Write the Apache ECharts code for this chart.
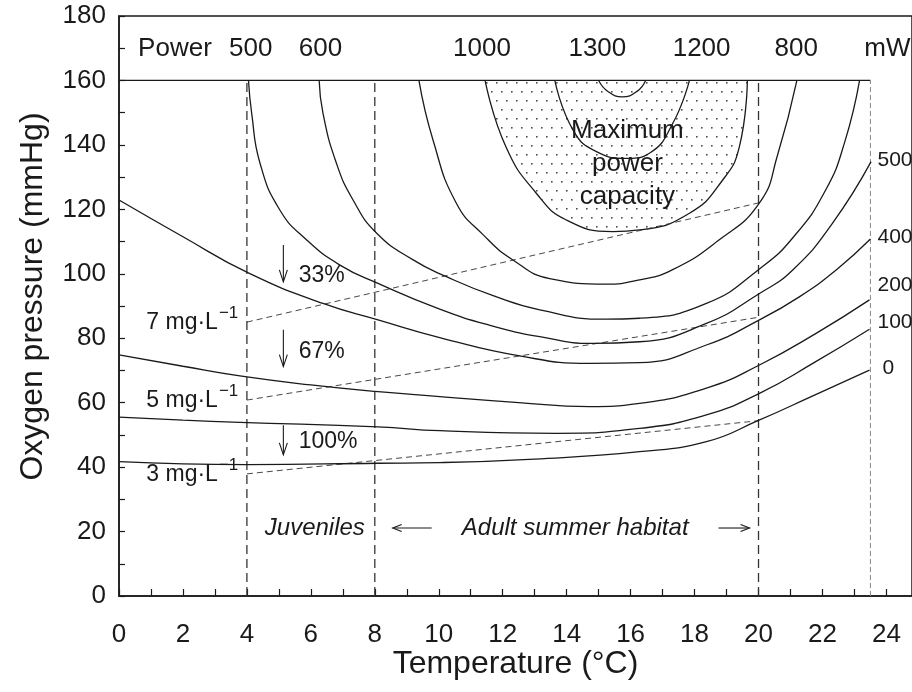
<!DOCTYPE html>
<html>
<head>
<meta charset="utf-8">
<script src="https://cdn.jsdelivr.net/npm/echarts@6/dist/echarts.min.js"></script>
<style>
  html, body { margin: 0; padding: 0; background: #fff; }
  #chart { width: 912px; height: 692px; }
</style>
</head>
<body>
<div id="chart"></div>
<script>
// Power isolines (mW): [temperature °C, oxygen pressure mmHg]
const power0    = [[0,41.7],[2,41.0],[4,40.8],[8.1,41.2],[10.03,41.4],[13,42.5],[16.28,44.8],[18.37,47.9],[19.98,54.4],[21.7,62.1],[23.47,70.1]];
const power100  = [[0,55.5],[2,54.6],[3.78,53.9],[8.1,52.5],[10.03,51.3],[13.68,50.5],[16.28,52.0],[18.37,56.2],[20.03,62.9],[21.75,72.5],[23.47,82.8]];
const power200  = [[0,74.8],[2,71.3],[3.78,68.3],[6,65.5],[8.1,63.4],[10.03,61.9],[12.5,60.0],[14.72,58.8],[16.28,59.8],[18.37,64.5],[20.03,71.7],[21.8,81.5],[23.47,91.9]];
const power400  = [[0,122.9],[2,111.5],[4.06,100.2],[6.38,90.8],[8.1,85.7],[10.03,80.2],[12.53,74.5],[14.72,72.2],[16.28,72.4],[18.37,77.9],[20.03,85.7],[21.3,93.0],[22.43,101.2],[23.5,110.8]];
const power500  = [[4.05,160],[4.15,149.8],[4.41,134.3],[5.03,119.8],[5.87,110.5],[6.91,102.7],[8.1,97.0],[10.03,89.0],[11.6,84.0],[13.16,80.5],[14.82,78.4],[16.28,78.9],[18.37,84.6],[20.03,93.9],[21.07,101.2],[22.3,115.5],[23.52,134.8]];
const power600  = [[6.26,160],[6.38,149.8],[6.8,134.3],[7.32,122.9],[8.06,112.6],[9.2,104.3],[10.24,99.1],[11.7,93.2],[13.16,88.8],[15.24,85.9],[16.28,86.2],[18.37,90.8],[20.03,101.5],[21.1,111.5],[22.1,126],[22.7,141],[23.16,160]];
const power800  = [[9.38,160],[9.82,141.5],[10.55,121.9],[11.4,112],[12.32,104.3],[13.47,98.5],[15.24,96.8],[16.28,98.1],[17.3,101.2],[18.7,110],[20.03,122],[20.6,137],[21.2,160]];
const power1000 = [[11.45,160],[12.1,139.4],[13.05,125],[13.99,116.7],[15.45,113.1],[16.28,113.6],[17.84,118.8],[18.88,129.1],[19.4,139.4],[19.65,160]];
const power1200 = [[13.63,160],[14.2,144.6],[14.93,137.9],[15.9,135.8],[16.6,137.5],[17.32,146.7],[17.84,160]];
const power1300 = [[15.0,160],[15.3,156.5],[15.74,154.9],[16.2,156.6],[16.47,160]];

// Dissolved oxygen reference lines (start and end of each dashed segment)
const o2Conc   = ['7', '5', '3'];
const o2Start  = [[4,85.0],[4,60.8],[4,37.9]];
const o2End    = [[20,122.0],[20,86.5],[20,54.4]];

// Habitat boundaries and the right-hand limit of the isolines
const habitatBounds = [4, 8, 20];
const isolineLimit  = 23.5;
const ceilingPressure = 160;

// Tick labels along the top (power values) and along the right edge
const topPowerLabels = ['500','600','1000','1300','1200','800'];
const topPowerX      = [4.12, 6.3, 11.35, 14.96, 18.22, 21.18];
const rightPowerLabels = ['500','400','200','100','0'];
const rightPowerY      = [135.3, 111.5, 96.6, 85.0, 70.8];

// Percentage reductions with their arrows
const reductionText  = ['33%', '67%', '100%'];
const reductionFrom  = [108.9, 82.6, 53.0];
const reductionTo    = [97.5, 71.2, 43.8];
const reductionTextY = [99.3, 75.8, 47.8];

const FONT = "'Liberation Sans', Arial, Helvetica, sans-serif";
const INK = '#1a1a1a';

// Stipple pattern for the maximum power region
const dots = document.createElement('canvas');
dots.width = 10; dots.height = 18;
(function () {
  const g = dots.getContext('2d');
  g.fillStyle = '#505050';
  g.fillRect(1, 1, 1.6, 1.6);
  g.fillRect(6, 10, 1.6, 1.6);
})();

function isoline(name, data, extra) {
  return Object.assign({
    name: name, type: 'line', data: data, showSymbol: false, symbol: 'none',
    smooth: 0.5, silent: true, z: 4,
    lineStyle: { color: INK, width: 1.3 }
  }, extra || {});
}

function segment(a, b, style, z) {
  return { type: 'line', data: [a, b], showSymbol: false, symbol: 'none', silent: true,
           z: z || 3, lineStyle: style };
}

// Text placed at data coordinates
function textLayer(texts, points, style) {
  return {
    type: 'custom', coordinateSystem: 'cartesian2d', silent: true, clip: false, z: 10,
    data: points,
    renderItem: function (params, api) {
      const p = api.coord([api.value(0), api.value(1)]);
      return {
        type: 'text', x: p[0] + (style.dx || 0), y: p[1] + (style.dy || 0),
        style: {
          text: texts[params.dataIndex], fill: INK,
          font: (style.italic ? 'italic ' : '') + style.size + 'px ' + FONT,
          align: style.align || 'center', verticalAlign: 'middle',
          lineHeight: style.lineHeight
        }
      };
    }
  };
}

const series = [];

// Horizontal ceiling and vertical boundaries
series.push(segment([0, ceilingPressure], [isolineLimit, ceilingPressure], { color: INK, width: 1.2 }));
habitatBounds.forEach(function (x) {
  series.push(segment([x, 0], [x, ceilingPressure], { color: '#333', width: 1.3, type: [9, 5] }));
});
series.push(segment([isolineLimit, 0], [isolineLimit, ceilingPressure], { color: '#888', width: 1, type: [5, 3] }));

// Oxygen concentration lines
o2Start.forEach(function (s, i) {
  series.push(segment(s, o2End[i], { color: '#333', width: 0.9, type: [6, 4] }));
});

// Isolines
series.push(isoline('0', power0));
series.push(isoline('100', power100));
series.push(isoline('200', power200));
series.push(isoline('400', power400));
series.push(isoline('500', power500));
series.push(isoline('600', power600));
series.push(isoline('800', power800));
series.push(isoline('1000', power1000, {
  areaStyle: { origin: ceilingPressure, color: { image: dots, repeat: 'repeat' }, opacity: 1 },
  z: 2
}));
series.push(isoline('1200', power1200));
series.push(isoline('1300', power1300));

// Labels
series.push(textLayer(['Power'], [[1.75, 169.8]], { size: 26 }));
series.push(textLayer(topPowerLabels, topPowerX.map(function (x) { return [x, 169.8]; }), { size: 26 }));
series.push(textLayer(['mW'], [[23.31, 169.8]], { size: 26, align: 'left' }));
series.push(textLayer(rightPowerLabels, rightPowerY.map(function (y, i) { return [i === 4 ? 23.88 : 23.72, y]; }),
  { size: 21, align: 'left' }));
series.push(textLayer(['Maximum\npower\ncapacity'], [[15.9, 134.2]], { size: 26, lineHeight: 33 }));
series.push(textLayer(reductionText, reductionTextY.map(function (y) { return [5.62, y]; }), { size: 23, align: 'left' }));
series.push(textLayer(['Juveniles'], [[4.56, 21.1]], { size: 24, italic: true, align: 'left' }));
series.push(textLayer(['Adult summer habitat'], [[10.72, 21.1]], { size: 24, italic: true, align: 'left' }));

// Concentration labels with superscript units
series.push({
  type: 'custom', coordinateSystem: 'cartesian2d', silent: true, clip: false, z: 10,
  data: o2Start,
  renderItem: function (params, api) {
    const p = api.coord([api.value(0), api.value(1)]);
    return {
      type: 'group', children: [
        { type: 'text', x: p[0] - 29, y: p[1] + 1,
          style: { text: o2Conc[params.dataIndex] + ' mg·L', fill: INK, font: '23px ' + FONT,
                   align: 'right', verticalAlign: 'middle' } },
        { type: 'text', x: p[0] - 28, y: p[1] - 9,
          style: { text: '\u2212' + '1', fill: INK, font: '17px ' + FONT,
                   align: 'left', verticalAlign: 'middle' } }
      ]
    };
  }
});

// Downward arrows for the oxygen reductions
series.push({
  type: 'custom', coordinateSystem: 'cartesian2d', silent: true, clip: false, z: 10,
  data: reductionFrom.map(function (y, i) { return [5.14, y, reductionTo[i]]; }),
  renderItem: function (params, api) {
    const a = api.coord([api.value(0), api.value(1)]);
    const b = api.coord([api.value(0), api.value(2)]);
    const st = { stroke: INK, lineWidth: 1.1, fill: null };
    return {
      type: 'group', children: [
        { type: 'polyline', shape: { points: [a, b] }, style: st },
        { type: 'polyline', shape: { points: [[b[0] - 4, b[1] - 12], b, [b[0] + 4, b[1] - 12]] }, style: st }
      ]
    };
  }
});

// Horizontal arrows around the habitat label
series.push({
  type: 'custom', coordinateSystem: 'cartesian2d', silent: true, clip: false, z: 10,
  data: [[9.78, 8.56, 21.1], [18.75, 19.72, 21.1]],
  renderItem: function (params, api) {
    const a = api.coord([api.value(0), api.value(2)]);
    const b = api.coord([api.value(1), api.value(2)]);
    const d = b[0] > a[0] ? 1 : -1;
    const st = { stroke: INK, lineWidth: 1.1, fill: null };
    return {
      type: 'group', children: [
        { type: 'polyline', shape: { points: [a, b] }, style: st },
        { type: 'polyline', shape: { points: [[b[0] - d * 9, b[1] - 3.5], b, [b[0] - d * 9, b[1] + 3.5]] }, style: st }
      ]
    };
  }
});

const chart = echarts.init(document.getElementById('chart'), null, { renderer: 'canvas' });
chart.setOption({
  animation: false,
  backgroundColor: '#fff',
  textStyle: { fontFamily: FONT },
  grid: { left: 119, right: -1, top: 16, bottom: 96, show: true, borderColor: INK, borderWidth: 1.5 },
  xAxis: {
    type: 'value', min: 0, max: 24.8, interval: 1,
    name: 'Temperature (°C)', nameLocation: 'middle', nameGap: 52, nameMoveOverlap: false,
    nameTextStyle: { fontSize: 32, color: INK, fontFamily: FONT },
    axisLine: { lineStyle: { color: INK, width: 1.5 } },
    axisTick: { inside: true, length: 7, lineStyle: { color: INK, width: 1.2 } },
    axisLabel: {
      fontSize: 26, color: INK, margin: 26, fontFamily: FONT, showMaxLabel: false,
      formatter: function (v) { return (Number.isInteger(v) && v % 2 === 0) ? String(v) : ''; }
    },
    splitLine: { show: false }
  },
  yAxis: {
    type: 'value', min: 0, max: 180, interval: 10,
    name: 'Oxygen pressure (mmHg)', nameLocation: 'middle', nameGap: 70,
    nameTextStyle: { fontSize: 32, color: INK, fontFamily: FONT, padding: [0, 0, 0, 19] },
    axisLine: { lineStyle: { color: INK, width: 1.5 } },
    axisTick: { inside: true, length: 6, lineStyle: { color: INK, width: 1.2 } },
    axisLabel: {
      fontSize: 26, color: INK, margin: 13, fontFamily: FONT,
      formatter: function (v) { return v % 20 === 0 ? String(v) : ''; }
    },
    splitLine: { show: false }
  },
  series: series
});
</script>
</body>
</html>
